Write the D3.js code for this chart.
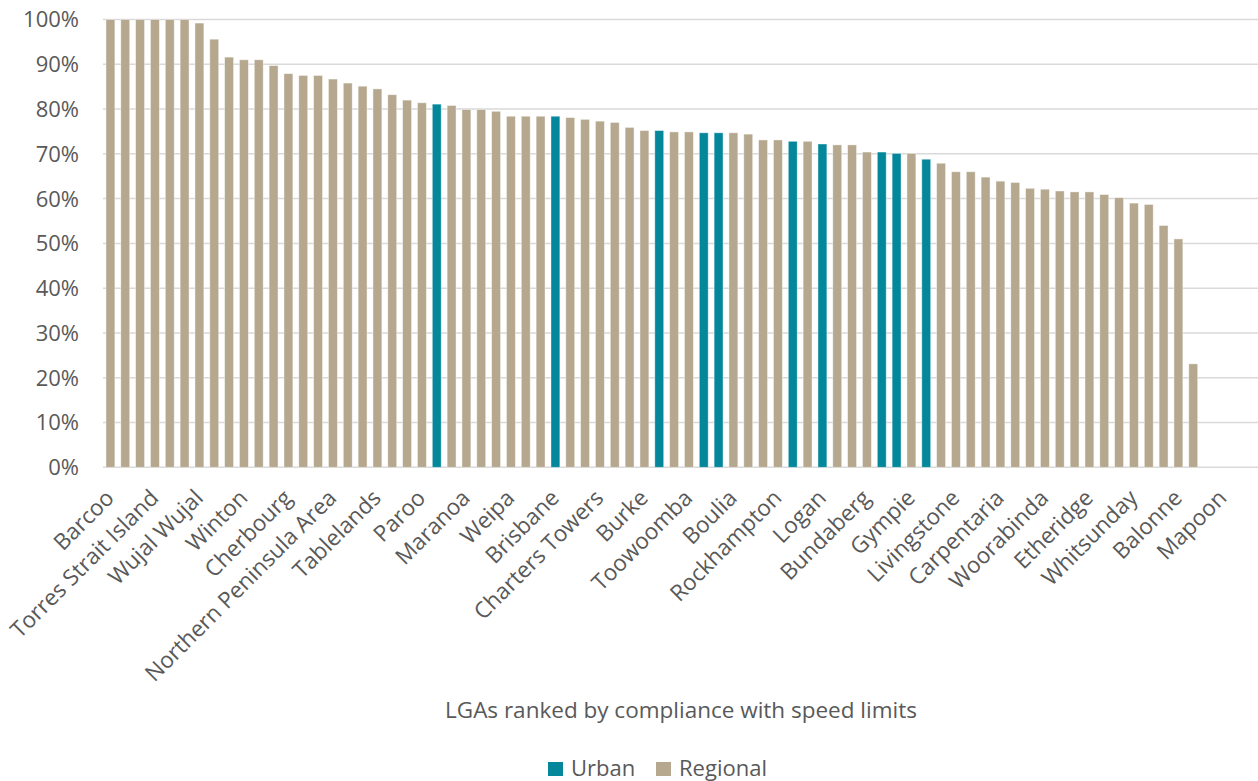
<!DOCTYPE html>
<html>
<head>
<meta charset="utf-8">
<script src="https://cdn.jsdelivr.net/npm/d3@7"></script>
<style>
  html, body { margin: 0; padding: 0; background: #fff; }
  svg text { font-family: "Open Sans", Carlito, Calibri, sans-serif; fill: #595959; }
</style>
</head>
<body>
<div id="chart"></div>
<script>
const WIDTH = 1258;
const HEIGHT = 781;

// compliance share per LGA, ranked (null = no bar)
const values = [
  1.000, 1.000, 1.000, 1.000, 1.000, 1.000, 0.992, 0.956, 0.916, 0.910,
  0.910, 0.897, 0.879, 0.875, 0.875, 0.867, 0.858, 0.851, 0.845, 0.832,
  0.820, 0.814, 0.811, 0.808, 0.799, 0.799, 0.795, 0.784, 0.784, 0.784,
  0.784, 0.781, 0.777, 0.773, 0.770, 0.759, 0.752, 0.752, 0.749, 0.749,
  0.747, 0.747, 0.747, 0.744, 0.731, 0.731, 0.728, 0.728, 0.722, 0.720,
  0.720, 0.704, 0.704, 0.701, 0.701, 0.688, 0.679, 0.660, 0.660, 0.648,
  0.639, 0.636, 0.623, 0.621, 0.617, 0.615, 0.615, 0.609, 0.602, 0.590,
  0.587, 0.540, 0.510, 0.231, null, null, null, null
];

// positions (rank) of the urban LGAs, everything else is regional
const urbanRanks = [22, 30, 37, 40, 41, 46, 48, 52, 53, 55];

// only every third LGA carries a label on the axis
const tickLabels = [
  "Barcoo", "Torres Strait Island", "Wujal Wujal", "Winton", "Cherbourg",
  "Northern Peninsula Area", "Tablelands", "Paroo", "Maranoa", "Weipa",
  "Brisbane", "Charters Towers", "Burke", "Toowoomba", "Boulia",
  "Rockhampton", "Logan", "Bundaberg", "Gympie", "Livingstone",
  "Carpentaria", "Woorabinda", "Etheridge", "Whitsunday", "Balonne", "Mapoon"
];
const LABEL_EVERY = 3;

const yTicks = [0, 0.1, 0.2, 0.3, 0.4, 0.5, 0.6, 0.7, 0.8, 0.9, 1.0];

const seriesNames = ["Urban", "Regional"];
const seriesColors = ["#04879a", "#b5a88f"];

const margin = { top: 19.5, right: -2, bottom: 313.7, left: 103 };

const svg = d3.select("#chart").append("svg")
  .attr("width", WIDTH)
  .attr("height", HEIGHT);

const x = d3.scaleBand()
  .domain(d3.range(values.length))
  .range([margin.left, WIDTH - margin.right])
  .paddingInner(0.4)
  .paddingOuter(0.2);

const y = d3.scaleLinear()
  .domain([0, 1])
  .range([HEIGHT - margin.bottom, margin.top]);

const color = d3.scaleOrdinal().domain(seriesNames).range(seriesColors);

// gridlines
svg.append("g")
  .selectAll("line")
  .data(yTicks)
  .join("line")
  .attr("x1", margin.left)
  .attr("x2", WIDTH)
  .attr("y1", d => y(d))
  .attr("y2", d => y(d))
  .attr("stroke", "#d9d9d9")
  .attr("stroke-width", 1.5);

// y tick labels
svg.append("g")
  .selectAll("text")
  .data(yTicks)
  .join("text")
  .attr("x", 79)
  .attr("y", d => y(d))
  .attr("dy", "0.36em")
  .attr("text-anchor", "end")
  .style("font-size", "22px")
  .text(d3.format(".0%"));

// bars
const bars = values.map((v, i) => ({ i, v, type: urbanRanks.includes(i) ? "Urban" : "Regional" }))
  .filter(d => d.v != null);

svg.append("g")
  .selectAll("rect")
  .data(bars)
  .join("rect")
  .attr("x", d => x(d.i))
  .attr("width", x.bandwidth())
  .attr("y", d => y(d.v))
  .attr("height", d => y(0) - y(d.v))
  .attr("fill", d => color(d.type))
  .attr("stroke", "#ffffff")
  .attr("stroke-opacity", 0.5)
  .attr("stroke-width", 0.8);

// category labels, rotated
svg.append("g")
  .selectAll("text")
  .data(tickLabels)
  .join("text")
  .attr("text-anchor", "end")
  .attr("transform", (d, k) => {
    const cx = x(k * LABEL_EVERY) + x.bandwidth() / 2 + 5;
    return `translate(${cx},${y(0) + 32}) rotate(-45)`;
  })
  .style("font-size", "22.5px")
  .text(d => d);

// axis title
svg.append("text")
  .attr("x", 681)
  .attr("y", 718)
  .attr("text-anchor", "middle")
  .style("font-size", "22.5px")
  .text("LGAs ranked by compliance with speed limits");

// legend
const legend = svg.append("g").attr("transform", "translate(548,762)");
const legendX = [0, 108];
const item = legend.selectAll("g")
  .data(seriesNames)
  .join("g")
  .attr("transform", (d, k) => `translate(${legendX[k]},0)`);
item.append("rect")
  .attr("width", 15)
  .attr("height", 14)
  .attr("fill", d => color(d));
item.append("text")
  .attr("x", 23)
  .attr("y", 13.5)
  .style("font-size", "22px")
  .text(d => d);
</script>
</body>
</html>
